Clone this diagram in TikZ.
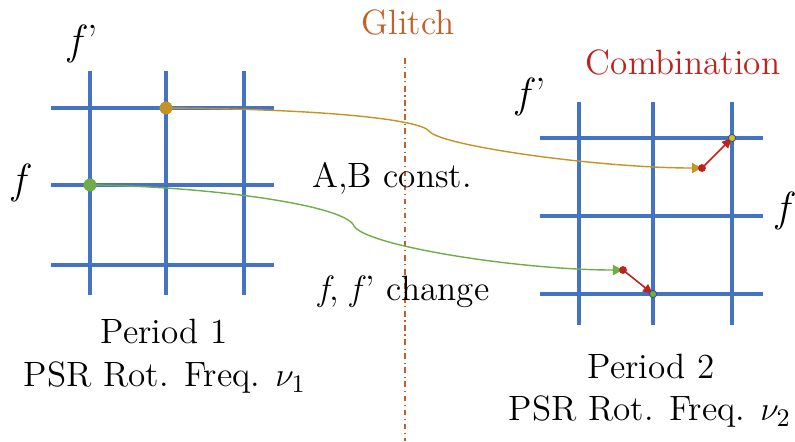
\documentclass[tikz,border=0pt]{standalone}
\usepackage{amsmath}
\usepackage{tikz}
\usetikzlibrary{arrows.meta}

\definecolor{gridblue}{RGB}{68,114,196}
\definecolor{goldline}{RGB}{196,148,36}
\definecolor{leafgreen}{RGB}{112,173,71}
\definecolor{glitchorange}{RGB}{197,96,40}
\definecolor{combred}{RGB}{190,34,30}

\tikzset{
  gridline/.style={gridblue, line width=1.1pt},
  pathline/.style={line width=0.5pt, -{Triangle[length=3.6pt,width=3.6pt]}},
  shiftarrow/.style={combred, line width=0.55pt, -{Triangle[length=3.6pt,width=3.2pt]}},
  lbl/.style={font=\fontsize{12.5}{15}\selectfont, inner sep=0pt},
  axis/.style={font=\fontsize{15}{18}\selectfont, inner sep=0pt}
}

\begin{document}
\begin{tikzpicture}[x=0.0125cm, y=-0.0125cm]
  \useasboundingbox (0,0) rectangle (795,441);

  % period 1 grid
  \foreach \x in {90,166,244} \draw[gridline] (\x,71) -- (\x,295);
  \foreach \y in {108,185,265} \draw[gridline] (51,\y) -- (274,\y);
  \node[axis] (fp1) at (83,44) {\textit{f}’};
  \node[axis] (f1) at (22,183) {\textit{f}};

  % period 2 grid
  \foreach \x in {579,653,732} \draw[gridline] (\x,102) -- (\x,325);
  \foreach \y in {138,216,294} \draw[gridline] (540,\y) -- (763,\y);
  \node[axis] (fp2) at (531,97) {\textit{f}’};
  \node[axis] (f2) at (786,211) {\textit{f}};

  % glitch
  \draw[glitchorange, line width=0.6pt, dash pattern=on 2pt off 1.3pt on 0.4pt off 1.3pt] (405,58) -- (405,441);
  \node[lbl, text=glitchorange] (glitch) at (408,22) {Glitch};
  \node[lbl, text=combred] (comb) at (683,62) {Combination};
  \node[lbl] (const) at (392,178) {A,B const.};
  \node[lbl] (change) at (404,292) {\textit{f}, \textit{f}’ change};

  % points
  \coordinate (o1) at (166,108);
  \coordinate (g1) at (90,185);
  \coordinate (o2) at (732,138);
  \coordinate (g2) at (653,294);
  \coordinate (or) at (702,168);
  \coordinate (gr) at (623,270);

  \draw[pathline, goldline] (o1) .. controls (330,109) and (420,120) .. (429,131)
    .. controls (440,146) and (600,168) .. (or);
  \draw[pathline, leafgreen] (g1) .. controls (200,186) and (345,204) .. (354,226)
    .. controls (366,246) and (520,270) .. (gr);

  \draw[shiftarrow] (or) -- (o2);
  \draw[shiftarrow] (gr) -- (g2);
  \fill[combred] (or) circle (1.4pt);
  \fill[combred] (gr) circle (1.4pt);

  \fill[goldline] (o1) circle (2.3pt);
  \fill[leafgreen] (g1) circle (2.3pt);
  \filldraw[fill=goldline!60!yellow, draw=gridblue!70!black, line width=0.3pt] (o2) circle (1.3pt);
  \filldraw[fill=leafgreen, draw=gridblue!70!black, line width=0.3pt] (g2) circle (1.3pt);

  % captions
  \node[lbl] (p1) at (164,331) {Period 1};
  \node[lbl] (rot1) at (165,378) {PSR Rot. Freq. $\nu_1$};
  \node[lbl] (p2) at (651,366) {Period 2};
  \node[lbl] (rot2) at (650,412) {PSR Rot. Freq. $\nu_2$};
\end{tikzpicture}
\end{document}
